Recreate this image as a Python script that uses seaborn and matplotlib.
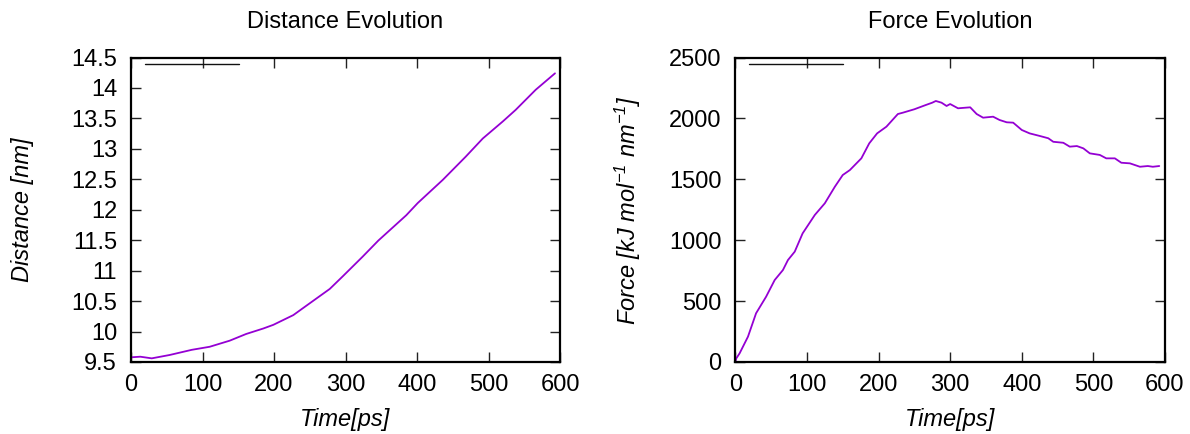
import numpy as np
import pandas as pd
import matplotlib
matplotlib.use("Agg")
import matplotlib.pyplot as plt
from matplotlib.lines import Line2D
import seaborn as sns

# ---- data ----
dist_time = [0, 13, 29, 54, 85, 110, 138, 161, 185, 199, 227, 240, 278, 296,
             324, 346, 385, 401, 436, 468, 492, 520, 538, 566, 593]
dist_nm = [9.577, 9.587, 9.56, 9.615, 9.70, 9.75, 9.85, 9.96, 10.05, 10.11,
           10.27, 10.38, 10.70, 10.905, 11.23, 11.495, 11.91, 12.11, 12.49,
           12.87, 13.17, 13.45, 13.64, 13.97, 14.24]

force_time = [0, 1.4, 6, 17.7, 29, 43, 55, 66.5, 73.5, 83, 94, 111, 125, 139,
              150, 160, 176, 187, 198, 211, 227, 234, 250, 266, 275, 280, 288,
              295, 300, 311, 328, 337, 346, 360, 369, 379, 388, 400, 411, 425,
              437, 444, 458, 467, 477, 486, 495, 509, 518, 530, 539, 551, 565,
              576, 583, 592]
force_kj = [0, 30, 71, 208, 400, 536, 673, 755, 837, 906, 1056, 1207, 1303,
            1439, 1535, 1576, 1672, 1795, 1877, 1932, 2036, 2047, 2075, 2110,
            2129, 2143, 2129, 2102, 2118, 2083, 2091, 2036, 2006, 2014, 1987,
            1968, 1965, 1905, 1877, 1856, 1837, 1808, 1800, 1768, 1773, 1754,
            1713, 1700, 1672, 1672, 1636, 1631, 1603, 1609, 1603, 1609]

titles = ["Distance Evolution", "Force Evolution"]
ylabels = ["Distance [nm]", "Force [kJ mol$^{-1}$ nm$^{-1}$]"]
xlabel = "Time[ps]"
dist_ticks = [9.5, 10, 10.5, 11, 11.5, 12, 12.5, 13, 13.5, 14, 14.5]
dist_ticklabels = ["9.5", "10", "10.5", "11", "11.5", "12", "12.5", "13",
                   "13.5", "14", "14.5"]
force_ticks = [0, 500, 1000, 1500, 2000, 2500]
time_ticks = [0, 100, 200, 300, 400, 500, 600]

# ---- style ----
sns.set_style("ticks")
plt.rcParams["font.family"] = ["Liberation Sans", "DejaVu Sans"]
plt.rcParams["mathtext.fontset"] = "custom"
plt.rcParams["mathtext.rm"] = "Liberation Sans:italic"
plt.rcParams["mathtext.it"] = "Liberation Sans:italic"
plt.rcParams["mathtext.default"] = "it"
plt.rcParams["text.color"] = "black"
plt.rcParams["axes.labelcolor"] = "black"
plt.rcParams["xtick.color"] = "black"
plt.rcParams["ytick.color"] = "black"

LINE_COLOR = "#9400D3"
FS = 17

fig = plt.figure(figsize=(11.9, 4.34), dpi=100)
ax1 = fig.add_axes([131 / 1190, 1 - 362 / 434, (560 - 131) / 1190, (362 - 57.5) / 434])
ax2 = fig.add_axes([735.3 / 1190, 1 - 362 / 434, (1165 - 735.3) / 1190, (362 - 57.5) / 434])

df1 = pd.DataFrame({"t": dist_time, "v": dist_nm})
df2 = pd.DataFrame({"t": force_time, "v": force_kj})
sns.lineplot(data=df1, x="t", y="v", ax=ax1, color=LINE_COLOR, lw=1.3)
sns.lineplot(data=df2, x="t", y="v", ax=ax2, color=LINE_COLOR, lw=1.3)

ax1.set_ylim(9.5, 14.5)
ax1.set_yticks(dist_ticks)
ax1.set_yticklabels(dist_ticklabels)
ax2.set_ylim(0, 2500)
ax2.set_yticks(force_ticks)

for ax, title, ylab, lx in [(ax1, titles[0], ylabels[0], -(131 - 34) / 429),
                            (ax2, titles[1], ylabels[1], -(735.3 - 643) / 429.7)]:
    ax.set_xlim(0, 600)
    ax.set_xticks(time_ticks)
    ax.set_title(title, fontsize=FS, pad=21, color="black")
    ax.set_xlabel(xlabel, fontsize=FS, fontstyle="italic")
    ax.set_ylabel(ylab, fontsize=FS, fontstyle="italic")
    ax.xaxis.set_label_coords(0.5, -0.151)
    ax.yaxis.set_label_coords(lx, 0.5)
    ax.tick_params(axis="both", direction="in", top=True, right=True,
                   length=7, width=1.0, color="#222222", labelsize=FS,
                   labelcolor="black")
    ax.tick_params(axis="x", pad=8.5)
    ax.tick_params(axis="y", pad=10)
    for sp in ax.spines.values():
        sp.set_visible(True)
        sp.set_linewidth(1.6)
        sp.set_color("black")
    ax.legend(handles=[Line2D([], [], color="#111111", lw=1.0)], labels=[""],
              loc="center left", bbox_to_anchor=(14 / 429, 1 - 8.5 / 304.5),
              frameon=False, borderpad=0, borderaxespad=0,
              handlelength=94 / (FS * 100 / 72), handletextpad=0, fontsize=FS)

fig.savefig("out.png", dpi=100)
